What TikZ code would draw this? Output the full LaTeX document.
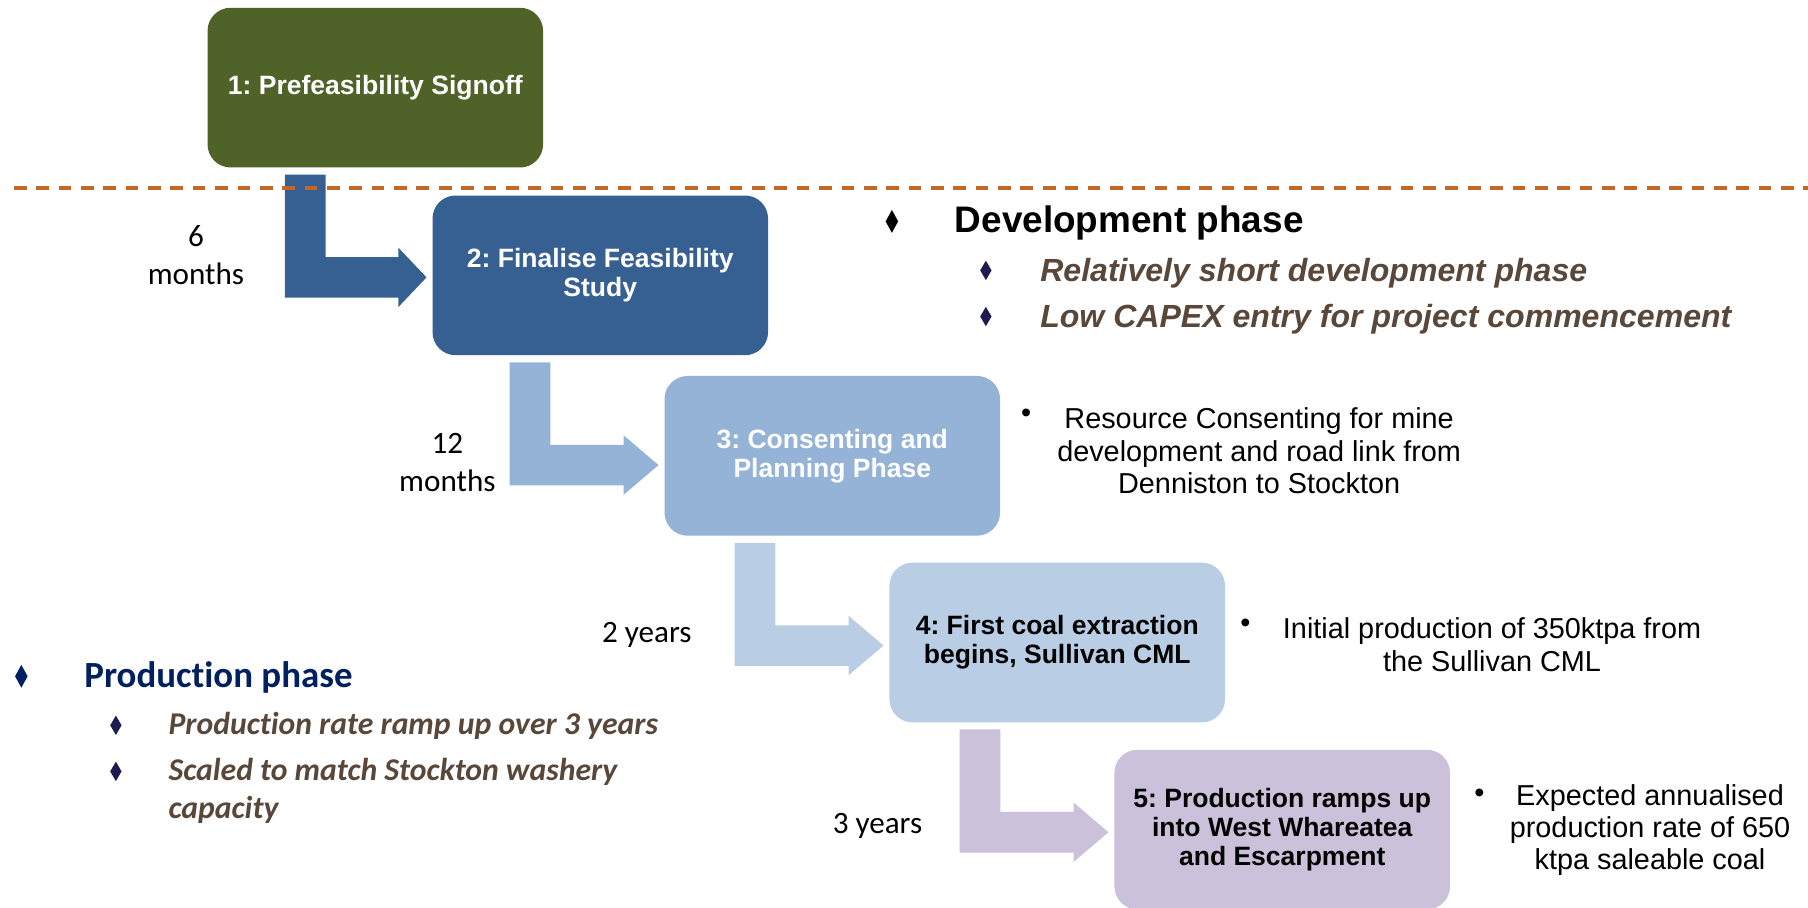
\documentclass[tikz,border=0pt]{standalone}
\usepackage{fontspec}
\setmainfont{Liberation Sans}
\newfontfamily\calibri[Ligatures={NoCommon,NoContextual}]{Carlito}
\usetikzlibrary{calc,shapes.geometric}
\frenchspacing

\definecolor{boxgreen}{RGB}{79,98,40}
\definecolor{boxblue}{RGB}{55,96,146}
\definecolor{boxmid}{RGB}{149,179,215}
\definecolor{boxlight}{RGB}{185,205,229}
\definecolor{boxlilac}{RGB}{204,193,218}
\definecolor{dashorange}{RGB}{192,104,42}
\definecolor{textbrown}{RGB}{89,71,58}
\definecolor{navy}{RGB}{0,32,96}
\definecolor{bulletnavy}{RGB}{30,27,80}

\tikzset{
  stage/.style={rounded corners=20pt, minimum width=291pt, minimum height=138.5pt,
    inner sep=0pt, align=center, font=\fontsize{23}{25}\selectfont\bfseries},
  note/.style={align=center, inner sep=0pt, font=\fontsize{25}{28}\selectfont},
  dotbullet/.style={inner sep=0pt, font=\fontsize{25}{28}\selectfont},
  duration/.style={align=center, inner sep=0pt, font=\calibri\fontsize{27}{33}\selectfont},
  bigdiamond/.style={diamond, inner sep=0pt, minimum width=11pt, minimum height=20pt},
  smalldiamond/.style={diamond, inner sep=0pt, minimum width=10pt, minimum height=17pt, fill=bulletnavy},
  devhead/.style={anchor=base west, inner sep=0pt, font=\fontsize{32}{36}\selectfont\bfseries},
  devitem/.style={anchor=base west, inner sep=0pt, text=textbrown, font=\fontsize{27.8}{30}\selectfont\bfseries\itshape},
  prodhead/.style={anchor=base west, inner sep=0pt, text=navy, font=\calibri\fontsize{32}{36}\selectfont\bfseries},
  proditem/.style={anchor=base west, inner sep=0pt, text=textbrown, font=\calibri\fontsize{27.5}{33}\selectfont\bfseries\itshape},
  phaseline/.style={dashorange, line width=2.9pt, dash pattern=on 11pt off 8.4pt}
}

% #1 source node, #2 target node, #3 colour, #4 shaft offset, #5 head length
\newcommand\blockarrow[5]{%
  \fill[#3] let \p1=(#1.south west), \p2=(#2.west) in
    ({\x1+#4pt},{\y1-6pt}) -- ({\x1+#4pt+35.3pt},{\y1-6pt})
    -- ({\x1+#4pt+35.3pt},{\y1-77.5pt}) -- ({\x2-5pt-#5pt},{\y1-77.5pt})
    -- ({\x2-5pt-#5pt},{\y1-69.3pt}) -- ({\x2-5pt},{\y1-95.1pt})
    -- ({\x2-5pt-#5pt},{\y1-120.9pt}) -- ({\x2-5pt-#5pt},{\y1-112.7pt})
    -- ({\x1+#4pt},{\y1-112.7pt}) -- cycle;%
}

\begin{document}
\begin{tikzpicture}[x=1pt,y=-1pt]
\useasboundingbox[fill=white] (0,0) rectangle (1568,787);

% stage boxes
\node[stage, fill=boxgreen, text=white] (b1) at (325.5,76) {1: Prefeasibility Signoff};
\node[stage, fill=boxblue, text=white] (b2) at (520.6,238.8) {2: Finalise Feasibility\\Study};
\node[stage, fill=boxmid, text=white] (b3) at (721.8,395.3) {3: Consenting and\\Planning Phase};
\node[stage, fill=boxlight, text=black] (b4) at (916.9,557.2) {4: First coal extraction\\begins, Sullivan CML};
\node[stage, fill=boxlilac, text=black] (b5) at (1112,719.5) {5: Production ramps up\\into West Whareatea\\and Escarpment};

% bent block arrows
\blockarrow{b1}{b2}{boxblue}{67.2}{24.5}
\blockarrow{b2}{b3}{boxmid}{67.1}{30.3}
\blockarrow{b3}{b4}{boxlight}{61}{30.3}
\blockarrow{b4}{b5}{boxlilac}{61}{30.3}

% dashed phase separator
\coordinate (dashL) at (12,163);
\coordinate (dashR) at (1568,163);
\draw[phaseline] (dashL) -- (dashR);

% durations
\node[duration] (d1) at (170,221) {6\\months};
\node[duration] (d2) at (388,401) {12\\months};
\node[duration] (d3) at (561,551) {2 years};
\node[duration] (d4) at (761,716) {3 years};

% notes right of stages
\node[dotbullet] (n3b) at (890,361) {•};
\node[note] (n3) at (1092,391) {Resource Consenting for mine\\development and road link from\\Denniston to Stockton};
\node[dotbullet] (n4b) at (1080,543) {•};
\node[note] (n4) at (1294,559) {Initial production of 350ktpa from\\the Sullivan CML};
\node[dotbullet] (n5b) at (1283,690) {•};
\node[note] (n5) at (1431,720) {Expected annualised\\production rate of 650\\ktpa saleable coal};

% development phase
\node[bigdiamond, fill=black] (devd) at (773.5,192) {};
\node[devhead] (devh) at (828,202) {Development phase};
\node[smalldiamond] (devd1) at (855,234.5) {};
\node[devitem] (dev1) at (902,244) {Relatively short development phase};
\node[smalldiamond] (devd2) at (855,274.5) {};
\node[devitem] (dev2) at (902,284) {Low CAPEX entry for project commencement};

% production phase
\node[bigdiamond, fill=navy] (prodd) at (18.5,586.5) {};
\node[prodhead] (prodh) at (73,596) {Production phase};
\node[smalldiamond] (prodd1) at (100.5,629) {};
\node[proditem] (prod1) at (146,637) {Production rate ramp up over 3 years};
\node[smalldiamond] (prodd2) at (100.5,669) {};
\node[proditem] (prod2) at (146,677) {Scaled to match Stockton washery};
\node[proditem] (prod2b) at (146,710) {capacity};
\end{tikzpicture}
\end{document}
